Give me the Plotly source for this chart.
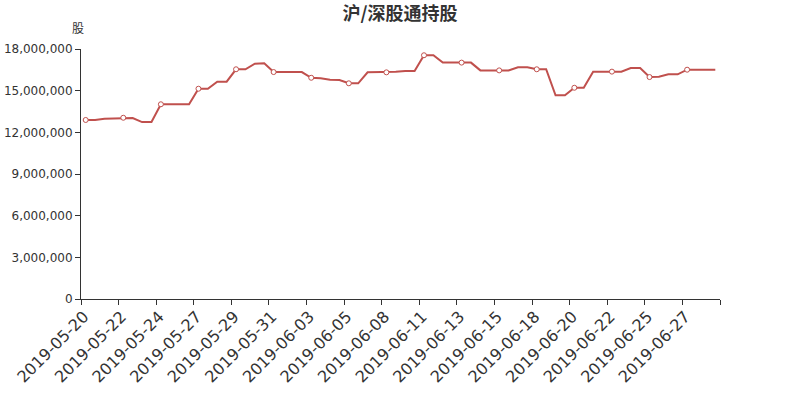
import plotly.graph_objects as go

title_text = "沪/深股通持股"
y_unit = "股"

tick_labels = [
    "2019-05-20", "2019-05-22", "2019-05-24", "2019-05-27", "2019-05-29",
    "2019-05-31", "2019-06-03", "2019-06-05", "2019-06-08", "2019-06-11",
    "2019-06-13", "2019-06-15", "2019-06-18", "2019-06-20", "2019-06-22",
    "2019-06-25", "2019-06-27",
]

holdings = [
    12890000, 12880000, 12980000, 13000000, 13050000, 13030000, 12740000, 12740000,
    14020000, 14020000, 14020000, 14020000, 15140000, 15140000, 15650000, 15650000,
    16540000, 16540000, 16940000, 16970000, 16340000, 16340000, 16340000, 16340000,
    15930000, 15890000, 15790000, 15770000, 15530000, 15530000, 16320000, 16320000,
    16320000, 16370000, 16420000, 16420000, 17550000, 17550000, 17020000, 17040000,
    17020000, 17020000, 16460000, 16460000, 16460000, 16460000, 16680000, 16680000,
    16540000, 16540000, 14670000, 14670000, 15210000, 15210000, 16370000, 16370000,
    16370000, 16370000, 16630000, 16630000, 15980000, 16000000, 16180000, 16180000,
    16510000, 16510000, 16510000, 16510000,
]

y_ticks = [0, 3000000, 6000000, 9000000, 12000000, 15000000, 18000000]

LINE = "#c0504d"
AXIS = "#333333"
FONT = "DejaVu Sans, Noto Sans CJK SC, sans-serif"

n = len(holdings)
idx = list(range(n))
step = 4

fig = go.Figure()
fig.add_trace(go.Scatter(
    x=idx, y=holdings, mode="lines",
    line=dict(color=LINE, width=2),
    hoverinfo="skip", showlegend=False,
))
fig.add_trace(go.Scatter(
    x=idx[::step], y=holdings[::step], mode="markers",
    marker=dict(symbol="circle", size=5, color="white",
                line=dict(color=LINE, width=1)),
    showlegend=False,
))

tickvals = [k - 0.5 for k in range(0, n + 1, step)]
ticktext = tick_labels + [""] * (len(tickvals) - len(tick_labels))

fig.update_layout(
    width=800, height=400,
    paper_bgcolor="white", plot_bgcolor="white",
    margin=dict(l=81, r=80, t=49, b=101, autoexpand=False),
    font=dict(family=FONT, color=AXIS),
    title=dict(text="<b>" + title_text + "</b>", x=0.5, xanchor="center",
               y=1 - 14 / 400, yanchor="middle", automargin=False,
               font=dict(size=18, color=AXIS, family="Noto Sans CJK SC, DejaVu Sans")),
    xaxis=dict(
        range=[-0.5, n - 0.5], automargin=False,
        tickmode="array", tickvals=tickvals, ticktext=ticktext,
        tickangle=-45, ticklabelshift=3, ticklabelstandoff=-4,
        tickfont=dict(size=16, color=AXIS),
        ticks="outside", ticklen=5, tickcolor=AXIS,
        showline=True, linecolor=AXIS, linewidth=1,
        showgrid=False, zeroline=False,
    ),
    yaxis=dict(
        range=[0, 18000000], automargin=False,
        tickmode="array", tickvals=y_ticks,
        tickformat=",d",
        tickfont=dict(size=12, color=AXIS),
        ticks="outside", ticklen=5, tickcolor=AXIS,
        showline=True, linecolor=AXIS, linewidth=1,
        showgrid=False, zeroline=False,
    ),
    annotations=[dict(
        text=y_unit, xref="paper", yref="paper", x=0, y=1.084,
        xanchor="center", yanchor="middle", showarrow=False,
        xshift=-3, font=dict(size=12, color=AXIS, family="Noto Sans CJK SC"),
    )],
)

fig.write_html("out.html", config={"displayModeBar": False},
               post_script="document.body.style.margin='0';")
